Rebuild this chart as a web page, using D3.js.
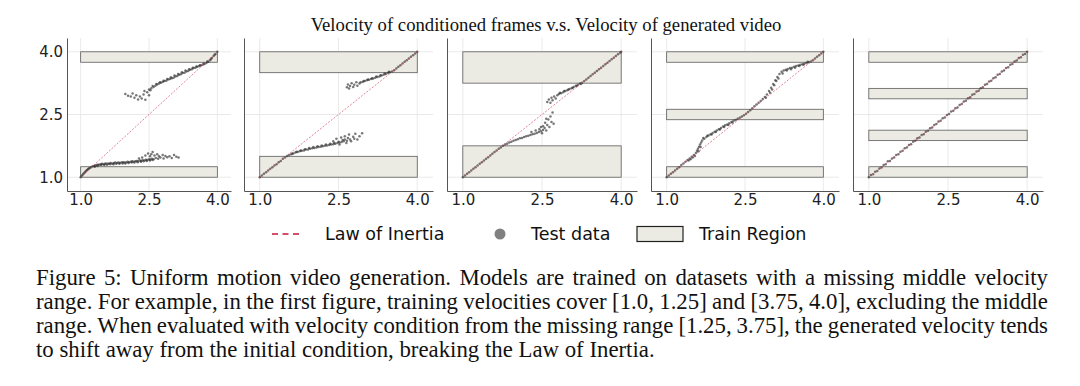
<!DOCTYPE html>
<html>
<head>
<meta charset="utf-8">
<script src="https://cdn.jsdelivr.net/npm/d3@7"></script>
<style>
  body { margin: 0; background: #fff; }
  svg { display: block; }
</style>
</head>
<body>
<svg id="chart" width="1080" height="386"></svg>
<script>
// Velocity of conditioned frames (x) vs velocity of generated video (y), five models.

const xTicks = [1.0, 2.5, 4.0];
const yTicks = [1.0, 2.5, 4.0];

// training velocity ranges, one list per model
const p1Train = [[1.0, 1.25], [3.75, 4.0]];
const p2Train = [[1.0, 1.5], [3.5, 4.0]];
const p3Train = [[1.0, 1.75], [3.25, 4.0]];
const p4Train = [[1.0, 1.25], [2.375, 2.625], [3.75, 4.0]];
const p5Train = [[1.0, 1.25], [1.875, 2.125], [2.875, 3.125], [3.75, 4.0]];

// test data, [condition velocity, generated velocity]
const p1Test = [
  [1.00,1.00],[1.02,1.03],[1.04,1.05],[1.06,1.08],[1.08,1.10],[1.10,1.13],[1.12,1.15],[1.14,1.17],[1.16,1.19],[1.18,1.21],
  [1.20,1.22],[1.23,1.24],[1.26,1.26],[1.29,1.27],[1.32,1.28],[1.35,1.29],[1.38,1.30],[1.41,1.30],[1.44,1.31],[1.47,1.32],
  [1.50,1.31],[1.53,1.32],[1.56,1.33],[1.60,1.32],[1.63,1.33],[1.66,1.34],[1.70,1.33],[1.73,1.34],[1.76,1.35],[1.80,1.34],
  [1.83,1.35],[1.86,1.34],[1.90,1.36],[1.93,1.35],[1.96,1.36],[2.00,1.35],[2.03,1.37],[2.06,1.36],[2.10,1.37],[2.13,1.38],
  [2.16,1.37],[2.20,1.38],[2.23,1.39],[2.26,1.38],[2.30,1.40],[2.33,1.39],[2.36,1.41],[2.40,1.40],[2.43,1.42],[2.46,1.41],
  [2.50,1.43],[2.53,1.42],[2.56,1.44],[2.60,1.43],[2.65,1.46],[2.70,1.44],[2.75,1.47],[2.82,1.45],[2.90,1.48],[3.00,1.46],
  [3.10,1.49],
  [1.31,1.25],[1.37,1.27],[1.45,1.29],[1.52,1.29],[1.58,1.30],[1.65,1.31],[1.72,1.31],[1.78,1.32],[1.85,1.32],[1.92,1.33],
  [1.98,1.33],[2.05,1.34],[2.12,1.35],[2.18,1.35],[2.25,1.36],[2.32,1.37],[2.38,1.38],[2.45,1.39],[2.52,1.40],[2.58,1.41],
  [2.42,1.52],[2.48,1.57],[2.52,1.50],[2.55,1.55],[2.58,1.60],[2.62,1.52],[2.68,1.55],[2.72,1.50],[2.80,1.53],[2.86,1.51],
  [2.95,1.50],[3.05,1.53],[3.15,1.47],[2.35,1.47],[2.28,1.45],
  [1.98,2.99],[2.04,2.95],[2.10,2.93],[2.14,3.00],[2.18,2.90],[2.22,2.96],[2.26,2.86],[2.30,2.93],[2.34,2.88],[2.38,2.98],
  [2.42,2.85],[2.46,3.03],[2.50,2.96],[2.53,3.08],[2.40,3.06],
  [2.50,3.10],[2.55,3.13],[2.60,3.16],[2.64,3.19],[2.68,3.22],[2.72,3.24],[2.76,3.26],[2.80,3.28],[2.84,3.30],[2.88,3.31],
  [2.92,3.34],[2.96,3.35],[3.00,3.37],[3.04,3.38],[3.08,3.41],[3.12,3.42],[3.16,3.45],[3.20,3.46],[3.24,3.49],[3.28,3.50],
  [3.32,3.53],[3.36,3.54],[3.40,3.57],[3.44,3.58],[3.48,3.61],[3.52,3.62],[3.56,3.64],[3.60,3.66],[3.64,3.67],[3.68,3.69],
  [3.72,3.71],[3.76,3.73],[3.80,3.76],[3.84,3.80],[3.88,3.85],[3.92,3.90],[3.96,3.95],[4.00,4.00],
  [2.58,3.18],[2.66,3.23],[2.74,3.27],[2.82,3.31],[2.90,3.35],[2.98,3.39],[3.06,3.43],[3.14,3.47],[3.22,3.51],[3.30,3.55],
  [3.38,3.58],[3.46,3.62],[3.54,3.65],[3.62,3.68],[3.70,3.72],[3.78,3.77],[3.86,3.83],[3.94,3.93]
];

const p2Test = [
  [1.00,1.00],[1.04,1.04],[1.08,1.08],[1.12,1.12],[1.16,1.16],[1.20,1.20],[1.24,1.24],[1.28,1.28],[1.32,1.31],[1.36,1.36],
  [1.40,1.39],[1.44,1.44],[1.48,1.47],[1.52,1.51],
  [1.56,1.53],[1.60,1.55],[1.64,1.57],[1.68,1.59],[1.72,1.60],[1.76,1.62],[1.80,1.63],[1.84,1.64],[1.88,1.66],[1.92,1.66],
  [1.96,1.68],[2.00,1.69],[2.04,1.70],[2.08,1.71],[2.12,1.72],[2.16,1.73],[2.20,1.74],[2.24,1.75],[2.28,1.76],[2.32,1.77],
  [2.36,1.78],[2.40,1.79],[2.44,1.80],[2.48,1.82],[2.52,1.83],[2.56,1.84],[2.60,1.86],[2.66,1.87],[2.72,1.90],[2.80,1.92],
  [1.62,1.57],[1.70,1.61],[1.78,1.64],[1.86,1.67],[1.94,1.70],[2.02,1.72],[2.10,1.74],[2.18,1.76],[2.26,1.78],[2.34,1.80],
  [2.42,1.82],[2.50,1.85],
  [2.40,1.86],[2.46,1.92],[2.52,1.78],[2.55,1.95],[2.58,1.89],[2.62,1.98],[2.65,1.82],[2.68,1.94],[2.70,2.02],[2.74,1.86],
  [2.78,1.97],[2.82,2.04],[2.86,1.90],[2.90,1.98],[2.95,2.05],[2.62,1.90],
  [2.66,3.15],[2.68,3.22],[2.70,3.12],[2.72,3.18],[2.75,3.25],[2.78,3.16],[2.80,3.21],[2.84,3.27],[2.86,3.19],[2.90,3.24],
  [2.92,3.27],[2.96,3.28],[3.00,3.30],[3.04,3.32],[3.08,3.33],[3.12,3.35],[3.16,3.36],[3.20,3.38],[3.24,3.40],[3.28,3.41],
  [3.32,3.43],[3.36,3.45],[3.40,3.47],[3.44,3.49],[3.48,3.51],[3.52,3.53],[3.56,3.56],[3.60,3.60],[3.64,3.64],[3.68,3.68],
  [3.72,3.72],[3.76,3.76],[3.80,3.80],[3.84,3.84],[3.88,3.88],[3.92,3.92],[3.96,3.96],[4.00,4.00],
  [2.98,3.30],[3.06,3.34],[3.14,3.37],[3.22,3.41],[3.30,3.44],[3.38,3.48],[3.46,3.52]
];

const p3Test = [
  [1.00,1.00],[1.04,1.04],[1.08,1.08],[1.12,1.12],[1.16,1.16],[1.20,1.20],[1.24,1.24],[1.28,1.28],[1.32,1.32],[1.36,1.36],
  [1.40,1.40],[1.44,1.44],[1.48,1.48],[1.52,1.52],[1.56,1.56],[1.60,1.60],[1.64,1.64],[1.68,1.68],[1.72,1.71],[1.76,1.75],
  [1.80,1.78],[1.84,1.80],[1.88,1.83],[1.92,1.85],[1.96,1.87],[2.00,1.89],[2.04,1.91],[2.08,1.93],[2.12,1.94],[2.16,1.96],
  [2.20,1.98],[2.24,1.99],[2.28,2.01],[2.32,2.03],[2.36,2.04],[2.40,2.06],[2.44,2.08],[2.48,2.10],[2.52,2.13],
  [2.30,2.08],[2.38,2.12],[2.45,2.15],[2.50,2.05],[2.52,2.22],[2.55,2.18],[2.56,2.30],[2.58,2.12],[2.60,2.25],[2.62,2.38],
  [2.64,2.20],[2.66,2.45],[2.68,2.32],[2.70,2.55],[2.72,2.28],[2.58,2.40],[2.48,2.20],
  [2.60,2.80],[2.63,2.86],[2.66,2.78],[2.68,2.90],[2.70,2.84],[2.73,2.93],[2.76,2.88],[2.79,2.96],[2.82,2.99],[2.86,3.01],
  [2.90,3.03],[2.94,3.06],[2.98,3.08],[3.02,3.11],[3.06,3.13],[3.10,3.16],[3.14,3.19],[3.18,3.21],[3.22,3.24],[3.26,3.26],
  [2.84,3.02],[2.92,3.06],[3.00,3.10],[3.08,3.14],[3.16,3.18],[3.24,3.23],
  [3.30,3.30],[3.34,3.34],[3.38,3.38],[3.42,3.42],[3.46,3.46],[3.50,3.50],[3.54,3.54],[3.58,3.58],[3.62,3.62],[3.66,3.66],
  [3.70,3.70],[3.74,3.74],[3.78,3.78],[3.82,3.82],[3.86,3.86],[3.90,3.90],[3.94,3.94],[3.98,3.98],[4.00,4.00]
];

const p4Test = [
  [1.00,1.00],[1.04,1.04],[1.08,1.08],[1.12,1.12],[1.16,1.16],[1.20,1.20],[1.24,1.24],[1.28,1.29],[1.32,1.33],[1.36,1.37],
  [1.40,1.41],[1.44,1.45],[1.48,1.49],[1.52,1.53],[1.56,1.58],
  [1.42,1.40],[1.46,1.43],[1.50,1.47],[1.54,1.51],
  [1.58,1.63],[1.60,1.68],[1.62,1.73],[1.64,1.78],[1.66,1.83],[1.61,1.62],[1.65,1.72],
  [1.68,1.88],[1.72,1.92],[1.76,1.96],[1.80,2.00],[1.84,2.03],[1.88,2.06],[1.92,2.09],[1.96,2.12],[2.00,2.15],[2.04,2.18],
  [2.08,2.21],[2.12,2.24],[2.16,2.26],[2.20,2.29],[2.24,2.32],[2.28,2.35],[2.32,2.37],[2.36,2.40],[2.40,2.42],[2.44,2.45],
  [2.48,2.48],[2.52,2.52],[2.56,2.56],[2.60,2.60],[2.64,2.65],[2.68,2.70],[2.72,2.74],[2.76,2.78],[2.80,2.82],[2.84,2.87],
  [2.88,2.92],[2.92,2.98],[2.96,3.06],[3.00,3.14],[3.04,3.23],[3.08,3.32],[3.12,3.40],[3.16,3.47],[3.20,3.52],[3.24,3.55],
  [3.28,3.57],[3.32,3.59],[3.36,3.61],[3.40,3.62],[3.44,3.64],[3.48,3.66],[3.52,3.67],[3.56,3.69],[3.60,3.70],[3.64,3.72],
  [3.68,3.73],[3.72,3.75],[3.76,3.77],[3.80,3.80],[3.84,3.84],[3.88,3.88],[3.92,3.92],[3.96,3.96],[4.00,4.00],
  [1.70,1.94],[1.78,1.99],[1.86,2.02],[1.94,2.08],[2.02,2.14],[2.10,2.20],[2.18,2.25],[2.26,2.31],[2.90,2.90],[2.98,3.02],
  [3.02,3.10],[3.06,3.20],[3.10,3.30],[3.14,3.36],[3.22,3.48],[3.30,3.55],[3.38,3.58],[3.46,3.62],[3.54,3.66],[3.62,3.69],
  [3.70,3.76]
];

const p5Test = [
  [1.00,1.00],[1.04,1.05],[1.08,1.07],[1.12,1.13],[1.16,1.15],[1.20,1.21],[1.24,1.23],[1.28,1.29],[1.32,1.31],[1.36,1.38],
  [1.40,1.39],[1.44,1.45],[1.48,1.47],[1.52,1.53],[1.56,1.55],[1.60,1.61],[1.64,1.63],[1.68,1.69],[1.72,1.71],[1.76,1.77],
  [1.80,1.79],[1.84,1.85],[1.88,1.87],[1.92,1.93],[1.96,1.95],[2.00,2.01],[2.04,2.03],[2.08,2.09],[2.12,2.11],[2.16,2.17],
  [2.20,2.19],[2.24,2.25],[2.28,2.27],[2.32,2.33],[2.36,2.35],[2.40,2.41],[2.44,2.43],[2.48,2.49],[2.52,2.51],[2.56,2.57],
  [2.60,2.59],[2.64,2.65],[2.68,2.67],[2.72,2.73],[2.76,2.75],[2.80,2.81],[2.84,2.83],[2.88,2.89],[2.92,2.91],[2.96,2.97],
  [3.00,2.99],[3.04,3.05],[3.08,3.07],[3.12,3.13],[3.16,3.15],[3.20,3.21],[3.24,3.23],[3.28,3.29],[3.32,3.31],[3.36,3.37],
  [3.40,3.39],[3.44,3.45],[3.48,3.47],[3.52,3.53],[3.56,3.55],[3.60,3.61],[3.64,3.63],[3.68,3.69],[3.72,3.71],[3.76,3.77],
  [3.80,3.79],[3.84,3.85],[3.88,3.87],[3.92,3.93],[3.96,3.95],[4.00,4.00]
];

const titleText = 'Velocity of conditioned frames v.s. Velocity of generated video';
const legendLabels = ['Law of Inertia', 'Test data', 'Train Region'];
const captionLines = [
  'Figure 5: Uniform motion video generation. Models are trained on datasets with a missing middle velocity',
  'range. For example, in the first figure, training velocities cover [1.0, 1.25] and [3.75, 4.0], excluding the middle',
  'range. When evaluated with velocity condition from the missing range [1.25, 3.75], the generated velocity tends',
  'to shift away from the initial condition, breaking the Law of Inertia.'
];

// layout
const plotTop = 38;
const plotBottom = 191;
const panels = [
  { left: 67, right: 231, train: p1Train, test: p1Test, yLabels: true },
  { left: 244, right: 433, train: p2Train, test: p2Test, yLabels: false },
  { left: 447, right: 637, train: p3Train, test: p3Test, yLabels: false },
  { left: 651, right: 839, train: p4Train, test: p4Test, yLabels: false },
  { left: 853, right: 1043, train: p5Train, test: p5Test, yLabels: false },
];

const tickFont = '"DejaVu Sans", sans-serif';
const serifFont = '"Liberation Serif", "Times New Roman", serif';
const inertiaColor = '#d4506a';
const bandFill = '#ecebe3';

const svg = d3.select('#chart');

const y = d3.scaleLinear().domain([0.67, 4.33]).range([plotBottom, plotTop]);

svg.append('text')
  .attr('x', 546)
  .attr('y', 31)
  .attr('text-anchor', 'middle')
  .style('font-family', serifFont)
  .style('font-size', '18.7px')
  .attr('fill', '#111')
  .text(titleText);

panels.forEach((p) => {
  const x = d3.scaleLinear().domain([0.7, 4.3]).range([p.left, p.right]);
  const g = svg.append('g');

  // grid
  g.selectAll('line.vgrid')
    .data(xTicks)
    .join('line')
    .attr('class', 'vgrid')
    .attr('x1', d => x(d)).attr('x2', d => x(d))
    .attr('y1', plotTop).attr('y2', plotBottom)
    .attr('stroke', '#e4e4e4')
    .attr('stroke-width', 0.8);

  g.selectAll('line.hgrid')
    .data(yTicks)
    .join('line')
    .attr('class', 'hgrid')
    .attr('x1', p.left).attr('x2', p.right)
    .attr('y1', d => y(d)).attr('y2', d => y(d))
    .attr('stroke', '#e4e4e4')
    .attr('stroke-width', 0.8);

  // train regions
  g.selectAll('rect.band')
    .data(p.train)
    .join('rect')
    .attr('class', 'band')
    .attr('x', x(1.0))
    .attr('width', x(4.0) - x(1.0))
    .attr('y', d => y(d[1]))
    .attr('height', d => y(d[0]) - y(d[1]))
    .attr('fill', bandFill)
    .attr('stroke', '#5a5a5a')
    .attr('stroke-width', 0.8);

  // test data
  g.selectAll('circle.test')
    .data(p.test)
    .join('circle')
    .attr('class', 'test')
    .attr('cx', d => x(d[0]))
    .attr('cy', d => y(d[1]))
    .attr('r', 1.25)
    .attr('fill', '#2e2e2e')
    .attr('fill-opacity', 0.65);

  // law of inertia
  g.append('line')
    .attr('x1', x(1.0)).attr('y1', y(1.0))
    .attr('x2', x(4.0)).attr('y2', y(4.0))
    .attr('stroke', inertiaColor)
    .attr('stroke-width', 0.7)
    .attr('stroke-dasharray', '2,1.5');

  // axes
  const xAxis = d3.axisBottom(x)
    .tickValues(xTicks)
    .tickSize(0)
    .tickSizeOuter(0)
    .tickPadding(3)
    .tickFormat(d3.format('.1f'));
  const gx = g.append('g')
    .attr('transform', `translate(0,${plotBottom})`)
    .call(xAxis);

  const yAxis = d3.axisLeft(y)
    .tickValues(yTicks)
    .tickSize(0)
    .tickSizeOuter(0)
    .tickPadding(4)
    .tickFormat(p.yLabels ? d3.format('.1f') : () => '');
  const gy = g.append('g')
    .attr('transform', `translate(${p.left},0)`)
    .call(yAxis);

  [gx, gy].forEach((ax) => {
    ax.select('.domain').attr('stroke', '#555').attr('stroke-width', 1);
    ax.selectAll('text')
      .style('font-family', tickFont)
      .style('font-size', '15px')
      .attr('fill', '#222');
  });
});

// legend
const legendY = 234;
const legend = svg.append('g').style('font-family', tickFont).style('font-size', '17.5px');

legend.append('line')
  .attr('x1', 272).attr('x2', 303)
  .attr('y1', legendY).attr('y2', legendY)
  .attr('stroke', inertiaColor)
  .attr('stroke-width', 2)
  .attr('stroke-dasharray', '6,4.5');
legend.append('circle')
  .attr('cx', 500).attr('cy', legendY)
  .attr('r', 5.5)
  .attr('fill', '#808080');
legend.append('rect')
  .attr('x', 637).attr('y', legendY - 7.5)
  .attr('width', 46).attr('height', 15)
  .attr('fill', bandFill)
  .attr('stroke', '#222')
  .attr('stroke-width', 1.2);

legend.selectAll('text')
  .data(legendLabels)
  .join('text')
  .attr('x', (d, i) => [325, 531, 699][i])
  .attr('y', legendY)
  .attr('dy', '0.35em')
  .attr('fill', '#111')
  .text(d => d);

// caption, justified by spacing the words
const captionLeft = 36;
const captionRight = 1048;
const captionSize = 22.8;
const caption = svg.append('g')
  .style('font-family', serifFont)
  .style('font-size', `${captionSize}px`)
  .attr('fill', '#111');

captionLines.forEach((line, i) => {
  const words = line.split(' ');
  const t = caption.append('text').attr('y', 285 + i * 24);
  const spans = words.map(w => t.append('tspan').text(w));
  const widths = spans.map(s => s.node().getComputedTextLength());
  const last = i === captionLines.length - 1;
  const gap = last ? captionSize * 0.25
    : (captionRight - captionLeft - d3.sum(widths)) / (words.length - 1);
  let cx = captionLeft;
  spans.forEach((s, j) => {
    s.attr('x', cx);
    cx += widths[j] + gap;
  });
});
</script>
</body>
</html>
